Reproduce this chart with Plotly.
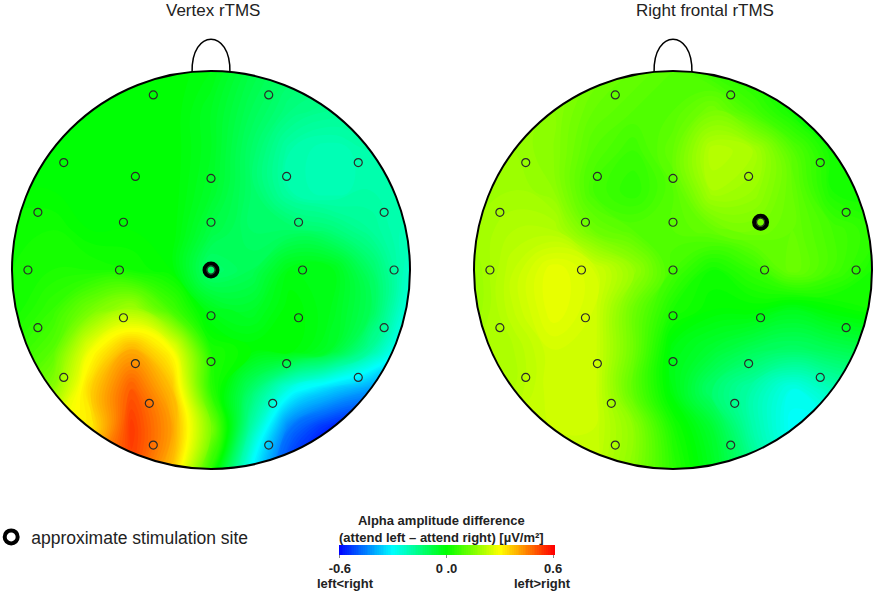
import math
import plotly.graph_objects as go

# --- data -------------------------------------------------------------
# coarse grid (head units, radius = 1) of values
GRID_X = [-1.0, -0.8, -0.6, -0.4, -0.2, 0.0, 0.2, 0.4, 0.6, 0.8, 1.0]
GRID_Y = [1.0, 0.8, 0.6, 0.4, 0.2, 0.0, -0.2, -0.4, -0.6, -0.8, -1.0]

VERTEX_Z = [
    [0.00, 0.00, 0.00, 0.00, 0.00, -0.02, -0.08, -0.12, -0.13, -0.14, -0.14],
    [0.00, 0.00, 0.00, 0.00, 0.00, -0.04, -0.10, -0.15, -0.17, -0.17, -0.17],
    [0.00, 0.00, 0.00, 0.00, 0.00, -0.04, -0.12, -0.20, -0.22, -0.20, -0.20],
    [0.00, 0.00, 0.00, 0.00, 0.00, -0.05, -0.12, -0.20, -0.22, -0.20, -0.20],
    [0.02, 0.02, 0.00, 0.00, 0.00, -0.08, -0.12, -0.12, -0.14, -0.18, -0.22],
    [0.02, 0.03, 0.03, 0.02, 0.00, -0.13, -0.10, -0.02, -0.02, -0.12, -0.24],
    [0.02, 0.06, 0.14, 0.20, 0.08, -0.03, -0.05, 0.00, -0.03, -0.10, -0.28],
    [0.05, 0.10, 0.29, 0.40, 0.30, 0.03, 0.00, 0.00, -0.05, -0.18, -0.35],
    [0.10, 0.16, 0.36, 0.50, 0.38, 0.05, -0.12, -0.28, -0.36, -0.42, -0.45],
    [0.20, 0.28, 0.33, 0.54, 0.42, 0.15, -0.20, -0.47, -0.57, -0.60, -0.60],
    [0.20, 0.35, 0.45, 0.52, 0.38, 0.05, -0.30, -0.55, -0.60, -0.60, -0.60],
]

FRONTAL_Z = [
    [0.16, 0.16, 0.16, 0.14, 0.12, 0.10, 0.06, 0.03, 0.02, 0.00, 0.00],
    [0.18, 0.18, 0.16, 0.12, 0.10, 0.10, 0.14, 0.08, 0.02, 0.00, 0.00],
    [0.19, 0.18, 0.16, 0.10, 0.07, 0.12, 0.22, 0.20, 0.10, 0.02, 0.00],
    [0.19, 0.19, 0.17, 0.08, 0.05, 0.10, 0.20, 0.18, 0.12, 0.03, 0.02],
    [0.19, 0.21, 0.21, 0.13, 0.10, 0.10, 0.12, 0.14, 0.12, 0.08, 0.05],
    [0.18, 0.23, 0.28, 0.25, 0.18, 0.08, 0.02, 0.06, 0.13, 0.08, 0.03],
    [0.18, 0.23, 0.28, 0.25, 0.13, 0.03, 0.00, 0.00, -0.03, 0.00, 0.02],
    [0.20, 0.21, 0.25, 0.25, 0.13, -0.02, -0.06, -0.10, -0.12, -0.10, -0.08],
    [0.21, 0.21, 0.25, 0.25, 0.11, -0.02, -0.13, -0.20, -0.28, -0.22, -0.18],
    [0.21, 0.23, 0.24, 0.24, 0.17, 0.03, -0.06, -0.20, -0.30, -0.30, -0.26],
    [0.21, 0.23, 0.23, 0.23, 0.16, 0.05, -0.04, -0.16, -0.26, -0.26, -0.26],
]

# electrode positions (head units)
ELEC_X = [-0.29, 0.29, -0.74, 0.74, -0.38, 0.0, 0.38, -0.87, 0.87,
          -0.44, 0.0, 0.44, -0.92, -0.46, 0.0, 0.46, 0.92,
          -0.44, 0.0, 0.44, -0.87, 0.87, -0.38, 0.0, 0.38,
          -0.74, 0.74, -0.31, 0.31, -0.29, 0.29]
ELEC_Y = [0.88, 0.88, 0.54, 0.54, 0.47, 0.46, 0.47, 0.29, 0.29,
          0.24, 0.24, 0.24, 0.0, 0.0, 0.0, 0.0, 0.0,
          -0.24, -0.23, -0.24, -0.29, -0.29, -0.47, -0.46, -0.47,
          -0.54, -0.54, -0.67, -0.67, -0.88, -0.88]

STIM_VERTEX = (0.0, 0.0)
STIM_FRONTAL = (0.44, 0.24)

TITLES = ["Vertex rTMS", "Right frontal rTMS"]
CBAR_TITLE = "Alpha amplitude difference<br>(attend left – attend right) [µV/m²]"
CBAR_TICKS = [-0.6, 0.0, 0.6]
CBAR_TICKTEXT = ["-0.6", "0 .0", "0.6"]
LEGEND_LABEL = "approximate stimulation site"

JET = [[0.0, "rgb(0,0,255)"], [0.25, "rgb(0,255,255)"], [0.5, "rgb(0,255,0)"],
       [0.75, "rgb(255,255,0)"], [1.0, "rgb(255,0,0)"]]

W, H = 882, 594
R = 199.0  # head radius in px
CY = 270.0
CX = [211.0, 673.0]
FONT = "Liberation Sans"


def mask_path(e=1.2, n=180):
    parts = [f"M{-e},{-e} L{e},{-e} L{e},{e} L{-e},{e} Z"]
    pts = []
    for k in range(n + 1):
        a = -2 * math.pi * k / n
        pts.append(f"{'M' if k == 0 else 'L'}{math.cos(a):.4f},{math.sin(a):.4f}")
    parts.append(" ".join(pts) + " Z")
    return " ".join(parts)


def note(text, px, py, size, bold=False):
    return dict(text=text, x=px / W, y=1 - py / H, xref="paper", yref="paper",
                xanchor="center", yanchor="middle", showarrow=False,
                font=dict(family=FONT, size=size, color="#222",
                          weight="bold" if bold else "normal"))


fig = go.Figure()
shapes = []
for i, z in enumerate([VERTEX_Z, FRONTAL_Z]):
    xa = "x" if i == 0 else "x2"
    ya = "y" if i == 0 else "y2"
    # smoothed filled contours give the soft topographic look
    fig.add_trace(go.Contour(x=GRID_X, y=GRID_Y, z=z, coloraxis="coloraxis",
                             contours=dict(coloring="fill", start=-0.6, end=0.6,
                                           size=0.01, showlines=False),
                             line=dict(width=0, smoothing=1.3),
                             xaxis=xa, yaxis=ya, hoverinfo="skip"))
    fig.add_trace(go.Scatter(x=ELEC_X, y=ELEC_Y, mode="markers", xaxis=xa, yaxis=ya,
                             marker=dict(symbol="circle-open", size=8, color="#2a2a2a",
                                         line=dict(width=1.2)),
                             showlegend=False, hoverinfo="skip"))
    stim = STIM_VERTEX if i == 0 else STIM_FRONTAL
    fig.add_trace(go.Scatter(x=[stim[0]], y=[stim[1]], mode="markers", xaxis=xa, yaxis=ya,
                             name=LEGEND_LABEL, showlegend=(i == 0),
                             marker=dict(symbol="circle-open", size=13, color="black",
                                         line=dict(width=4)),
                             hoverinfo="skip"))
    shapes.append(dict(type="path", xref=xa, yref=ya, path=mask_path(),
                       fillcolor="white", line=dict(width=0)))
    shapes.append(dict(type="circle", xref=xa, yref=ya, x0=-1, x1=1, y0=-1, y1=1,
                       line=dict(color="black", width=2)))
    shapes.append(dict(type="path", xref=xa, yref=ya,
                       path="M -0.095,0.995 C -0.1,1.215 0.1,1.215 0.095,0.995",
                       line=dict(color="black", width=1.5)))

ax = dict(visible=False, fixedrange=True)
fig.update_layout(
    width=W, height=H,
    margin=dict(l=0, r=0, t=0, b=0, autoexpand=False),
    paper_bgcolor="white", plot_bgcolor="white",
    xaxis=dict(ax, domain=[0, 0.5], range=[-CX[0] / R, (W / 2 - CX[0]) / R]),
    yaxis=dict(ax, domain=[0, 1], range=[-(H - CY) / R, CY / R]),
    xaxis2=dict(ax, domain=[0.5, 1], range=[-(CX[1] - W / 2) / R, (W - CX[1]) / R], anchor="y2"),
    yaxis2=dict(ax, domain=[0, 1], range=[-(H - CY) / R, CY / R], anchor="x2"),
    shapes=shapes,
    coloraxis=dict(
        colorscale=JET, cmin=-0.6, cmax=0.6,
        colorbar=dict(
            orientation="h", x=446.5 / W, xanchor="center",
            y=(H - 545) / H, yanchor="top", ypad=0,
            len=235, lenmode="pixels", thickness=10, outlinewidth=0,
            tickvals=CBAR_TICKS, ticktext=CBAR_TICKTEXT,
            ticks="outside", ticklen=3, tickcolor="#888",
            tickfont=dict(family=FONT, size=13, color="#222", weight="bold"),
        ),
    ),
    showlegend=True,
    legend=dict(x=-0.01, y=(H - 537) / H, xanchor="left", yanchor="middle",
                font=dict(family=FONT, size=17.5, color="#222"),
                bgcolor="rgba(0,0,0,0)"),
    annotations=[
        note(TITLES[0], 213, 11, 17),
        note(TITLES[1], 705, 11, 17),
        note(CBAR_TITLE, 441, 529, 13, bold=True),
        note("left<right", 345, 583, 13, bold=True),
        note("left>right", 542, 583, 13, bold=True),
    ],
)

fig.write_html("out.html", config={"displayModeBar": False},
               post_script="document.body.style.margin='0';")
